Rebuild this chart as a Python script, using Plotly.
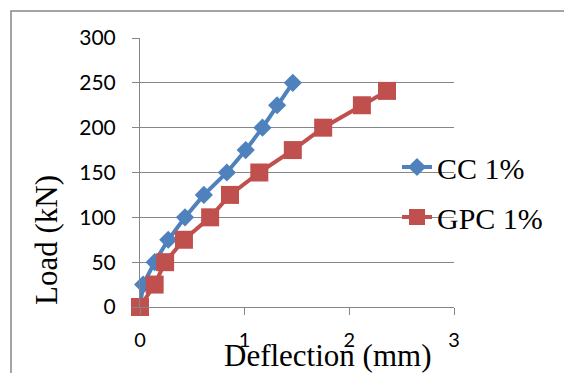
import plotly.graph_objects as go

cc_x = [0.0, 0.03, 0.14, 0.27, 0.43, 0.61, 0.83, 1.01, 1.17, 1.31, 1.46]
cc_y = [0, 25, 50, 75, 100, 125, 150, 175, 200, 225, 250]
gpc_x = [0.0, 0.14, 0.24, 0.42, 0.67, 0.86, 1.14, 1.46, 1.75, 2.12, 2.36]
gpc_y = [0, 25, 50, 75, 100, 125, 150, 175, 200, 225, 241]
x_ticks = [0, 1, 2, 3]
y_ticks = [0, 50, 100, 150, 200, 250, 300]

BLUE = "#4F81BD"
RED = "#C0504D"
GRID = "#868686"

W, H = 564, 373
L, R, T, B = 140, 110, 38, 66
pw, ph = W - L - R, H - T - B

def px(x):
    return (x - L) / pw

def py(y):
    return (H - B - y) / ph

fig = go.Figure()
fig.add_trace(go.Scatter(x=cc_x, y=cc_y, mode="lines+markers", name="CC 1%",
                         legendgroup="a", cliponaxis=False,
                         line=dict(color=BLUE, width=4),
                         marker=dict(symbol="diamond", size=14, color=BLUE)))
fig.add_trace(go.Scatter(x=gpc_x, y=gpc_y, mode="lines+markers", name="GPC 1%",
                         legendgroup="b", cliponaxis=False,
                         line=dict(color=RED, width=4),
                         marker=dict(symbol="square", size=18, color=RED)))

fig.update_layout(
    width=W, height=H,
    margin=dict(l=L, r=R, t=T, b=B),
    paper_bgcolor="white", plot_bgcolor="white",
    showlegend=True,
    legend=dict(x=px(397), y=py(141), xanchor="left", yanchor="top",
                bgcolor="rgba(0,0,0,0)",
                traceorder="grouped", tracegroupgap=8,
                font=dict(family="Liberation Serif", size=30, color="black")),
    xaxis=dict(range=[0, 3], tickvals=x_ticks, showgrid=False, zeroline=False,
               showline=True, linecolor=GRID, linewidth=1,
               ticks="outside", ticklen=7, tickcolor=GRID,
               ticklabelstandoff=8,
               tickfont=dict(family="Lato", size=20, color="black")),
    yaxis=dict(range=[0, 300], tickvals=y_ticks, showgrid=True, gridcolor=GRID,
               gridwidth=1, zeroline=False,
               showline=True, linecolor=GRID, linewidth=1,
               ticks="outside", ticklen=7, tickcolor=GRID,
               ticklabelstandoff=12,
               tickfont=dict(family="Lato", size=21, color="black")),
    shapes=[dict(type="rect", xref="paper", yref="paper",
                 x0=px(11), x1=px(600), y0=py(400), y1=py(11),
                 line=dict(color=GRID, width=1.5), layer="below")],
    annotations=[
        dict(text="Load (kN)", xref="paper", yref="paper", x=px(46), y=py(240),
             textangle=-90, showarrow=False, xanchor="center", yanchor="middle",
             font=dict(family="Liberation Serif", size=31, color="black")),
        dict(text="Deflection (mm)", xref="paper", yref="paper", x=px(327), y=py(355),
             showarrow=False, xanchor="center", yanchor="middle",
             font=dict(family="Liberation Serif", size=31, color="black")),
    ],
)

fig.write_html("out.html")
